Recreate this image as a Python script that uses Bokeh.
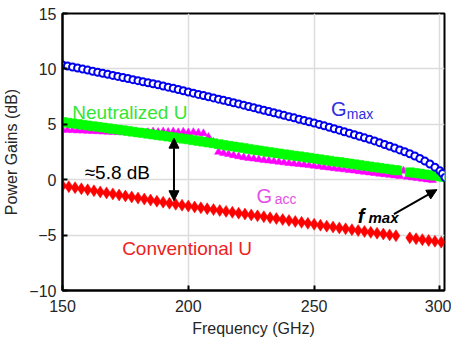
from bokeh.plotting import figure
from bokeh.models import Label, Arrow, NormalHead, FixedTicker, Range1d
from bokeh.embed import file_html
from bokeh.resources import INLINE

FONT = "Liberation Sans"

# ---------------- data ----------------
x_ticks = [150, 200, 250, 300]
y_ticks = [-10, -5, 0, 5, 10, 15]

# Gmax (blue circles)
f_gmax = list(range(150, 301, 2)) + [301, 302]
g_max = [10.35, 10.26, 10.17, 10.08, 9.98, 9.89, 9.79, 9.70, 9.60, 9.51,
         9.41, 9.32, 9.22, 9.13, 9.03, 8.94, 8.84, 8.75, 8.66, 8.56,
         8.46, 8.35, 8.25, 8.14, 8.03, 7.92, 7.81, 7.70, 7.60, 7.49,
         7.38, 7.27, 7.16, 7.05, 6.94, 6.84, 6.73, 6.61, 6.50, 6.38,
         6.27, 6.15, 6.04, 5.92, 5.81, 5.69, 5.58, 5.46, 5.35, 5.23,
         5.12, 4.99, 4.86, 4.73, 4.60, 4.47, 4.33, 4.20, 4.06, 3.92,
         3.78, 3.64, 3.50, 3.34, 3.18, 3.02, 2.86, 2.69, 2.52, 2.34,
         2.14, 1.92, 1.68, 1.42, 1.13, 0.80, 0.55, 0.20]

# Neutralized U (green squares)
f_neu = list(range(150, 283, 2)) + [283] + list(range(288, 301, 2)) + [301.5]
u_neu = [5.20, 5.14, 5.08, 5.02, 4.96, 4.89, 4.83, 4.77, 4.71, 4.65,
         4.58, 4.52, 4.46, 4.40, 4.33, 4.27, 4.21, 4.15, 4.08, 4.02,
         3.96, 3.89, 3.83, 3.76, 3.70, 3.64, 3.57, 3.50, 3.43, 3.36,
         3.29, 3.21, 3.13, 3.06, 2.99, 2.92, 2.85, 2.78, 2.71, 2.64,
         2.57, 2.50, 2.43, 2.37, 2.30, 2.24, 2.17, 2.11, 2.04, 1.98,
         1.91, 1.85, 1.78, 1.72, 1.65, 1.59, 1.52, 1.46, 1.39, 1.33,
         1.26, 1.20, 1.13, 1.07, 1.00, 0.94, 0.87, 0.84,
         0.68, 0.61, 0.55, 0.48, 0.42, 0.35, 0.29, 0.24]

# Gacc (magenta triangles)
f_acc = list(range(150, 285, 2)) + [285.5] + [287, 289, 291, 293, 295, 297]
g_acc = [4.50, 4.48, 4.46, 4.44, 4.42, 4.40, 4.38, 4.36, 4.34, 4.32,
         4.30, 4.28, 4.27, 4.26, 4.25, 4.25, 4.26, 4.28, 4.33, 4.29,
         4.34, 4.29, 4.33, 4.27, 4.31, 4.25, 4.28, 4.22, 4.18, 3.85,
         3.40, 2.50, 2.40, 2.30, 2.20, 2.10, 2.02, 1.95, 1.89, 1.83,
         1.77, 1.72, 1.66, 1.61, 1.55, 1.50, 1.45, 1.40, 1.35, 1.30,
         1.25, 1.19, 1.13, 1.08, 1.02, 0.97, 0.92, 0.86, 0.81, 0.75,
         0.70, 0.64, 0.59, 0.53, 0.48, 0.42, 0.37, 0.32,
         0.80,
         0.25, 0.19, 0.13, 0.07, 0.01, -0.05]

# Conventional U (red diamonds)
f_conv = [150 + 2.5 * i for i in range(54)] + [288, 290.5, 293, 295.5, 298, 300.5]
u_conv = [-0.54, -0.63, -0.72, -0.82, -0.91, -1.00, -1.10, -1.19, -1.28, -1.38,
          -1.47, -1.56, -1.66, -1.75, -1.84, -1.94, -2.03, -2.13, -2.22, -2.30,
          -2.38, -2.46, -2.54, -2.62, -2.70, -2.78, -2.86, -2.94, -3.02, -3.10,
          -3.18, -3.26, -3.34, -3.43, -3.51, -3.60, -3.68, -3.77, -3.85, -3.94,
          -4.02, -4.11, -4.19, -4.27, -4.35, -4.43, -4.51, -4.59, -4.67, -4.75,
          -4.83, -4.90, -4.98, -5.06,
          -5.25, -5.33, -5.41, -5.48, -5.56, -5.64]

# ---------------- figure ----------------
p = figure(width=451, height=344, x_range=Range1d(150, 301.8), y_range=Range1d(-10, 15),
           output_backend="svg", toolbar_location=None,
           min_border_left=60, min_border_right=7, min_border_top=13, min_border_bottom=54)
p.background_fill_color = "white"
p.border_fill_color = "white"
p.outline_line_color = "black"
p.outline_line_width = 2

xa = p.below[0]
ya = p.left[0]
xa.ticker = FixedTicker(ticks=x_ticks)
ya.ticker = FixedTicker(ticks=y_ticks)
for ax in (xa, ya):
    ax.major_tick_in = 5
    ax.major_tick_out = 0
    ax.minor_tick_line_color = None
    ax.axis_line_width = 2
    ax.major_tick_line_width = 2
    ax.major_label_text_font = FONT
    ax.major_label_text_font_size = "16px"
    ax.major_label_text_color = "#262626"
    ax.axis_label_text_font = FONT
    ax.axis_label_text_font_size = "16px"
    ax.axis_label_text_font_style = "normal"
    ax.axis_label_text_color = "#262626"
xa.axis_label = "Frequency (GHz)"
ya.axis_label = "Power Gains (dB)"
xa.major_label_standoff = 9
xa.axis_label_standoff = 5
ya.major_label_standoff = 6
ya.axis_label_standoff = 6

p.xgrid.grid_line_color = "#dcdcdc"
p.ygrid.grid_line_color = "#dcdcdc"
p.xgrid.grid_line_width = 1.5
p.ygrid.grid_line_width = 1.5

# ---------------- series ----------------
p.scatter(f_conv, u_conv, marker="diamond", size=12, fill_color="#ff0000", line_color="#ff0000", line_width=0.5)
p.scatter(f_acc, g_acc, marker="triangle", size=8, fill_color="#ff00ff", line_color="#ff00ff", line_width=0.5)
p.scatter(f_neu, u_neu, marker="square", size=9, fill_color="#00ff00", line_color="#00ff00", line_width=0.5)
p.scatter(f_gmax, g_max, marker="circle", size=7, fill_color="white", line_color="#0000ee", line_width=2)

# ---------------- annotations ----------------
def lab(x, y, t, color, size, style="normal"):
    p.add_layout(Label(x=x, y=y, text=t, text_color=color, text_font=FONT,
                       text_font_size=size, text_font_style=style,
                       text_baseline="alphabetic", text_align="left"))

lab(153.9, 6.04, "Neutralized U", "#33e633", "19px")
lab(256.7, 6.4, "G", "#2e2ee0", "20px")
lab(263.0, 5.9, "max", "#2e2ee0", "14px")
lab(158.8, 0.68, "\u22485.8 dB", "black", "19px")
lab(227.1, -1.44, "G", "#e550e5", "20px")
lab(234.3, -1.75, "acc", "#e550e5", "14px")
lab(173.7, -6.22, "Conventional U", "#ee2222", "19px")
lab(267.3, -3.24, "f", "black", "20px", "bold italic")
lab(271.6, -3.42, "max", "black", "15px", "bold italic")

p.add_layout(Arrow(start=NormalHead(size=10, fill_color="black", line_color="black"),
                   end=NormalHead(size=10, fill_color="black", line_color="black"),
                   x_start=194.3, y_start=3.75, x_end=194.3, y_end=-1.9,
                   line_width=2, line_color="black"))
p.add_layout(Arrow(end=NormalHead(size=10, fill_color="black", line_color="black"),
                   x_start=281.7, y_start=-3.1, x_end=298.8, y_end=-0.9,
                   line_width=2, line_color="black"))

open("out.html", "w").write(file_html(p, INLINE))
